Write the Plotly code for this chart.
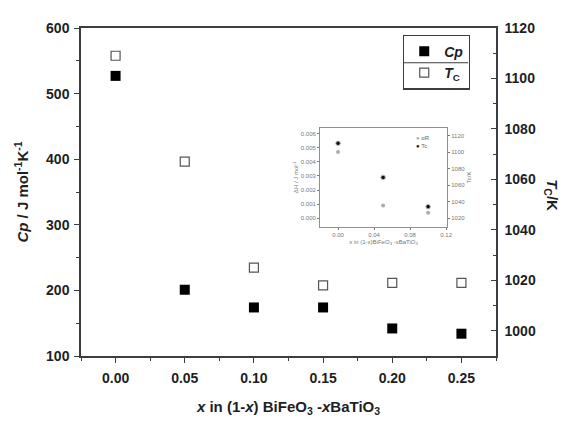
import plotly.graph_objects as go

# ---- main data ----
x_vals = [0.00, 0.05, 0.10, 0.15, 0.20, 0.25]
cp_vals = [527, 201, 174, 174, 142, 134]
tc_vals = [1109, 1067, 1025, 1018, 1019, 1019]
x_ticks = [0.00, 0.05, 0.10, 0.15, 0.20, 0.25]
x_ticktext = ["0.00", "0.05", "0.10", "0.15", "0.20", "0.25"]
cp_ticks = [100, 200, 300, 400, 500, 600]
tc_ticks = [1000, 1020, 1040, 1060, 1080, 1100, 1120]

# ---- inset data ----
ins_x = [0.00, 0.05, 0.10]
ins_grey = [0.0047, 0.0009, 0.0004]
ins_black = [1110.6, 1069.4, 1034.1]
ins_x_ticks = [0.00, 0.04, 0.08, 0.12]
ins_x_text = ["0.00", "0.04", "0.08", "0.12"]
ins_l_ticks = [0.000, 0.001, 0.002, 0.003, 0.004, 0.005, 0.006]
ins_l_text = ["0.000", "0.001", "0.002", "0.003", "0.004", "0.005", "0.006"]
ins_r_ticks = [1020, 1040, 1060, 1080, 1100, 1120]
ins_legend = ["αR", "Tc"]

INK = "#1e1e24"
AX = "#3a3d44"
FONT = "Liberation Sans"
GREY_PT = "#a8adb3"

fig = go.Figure()

fig.add_trace(go.Scatter(
    x=x_vals, y=cp_vals, mode="markers", name="<b><i>Cp</i></b>",
    marker=dict(symbol="square", size=10, color="#000000"),
    xaxis="x", yaxis="y"))
fig.add_trace(go.Scatter(
    x=x_vals, y=tc_vals, mode="markers", name="<b><i>T</i><sub>C</sub></b>",
    marker=dict(symbol="square-open", size=9, color="#555555", line=dict(width=1.2)),
    xaxis="x", yaxis="y2"))

# inset traces
fig.add_trace(go.Scatter(
    x=ins_x, y=ins_grey, mode="markers", name=ins_legend[0], showlegend=False,
    marker=dict(symbol="circle", size=4, color=GREY_PT),
    xaxis="x2", yaxis="y3"))
fig.add_trace(go.Scatter(
    x=ins_x, y=ins_black, mode="markers", name=ins_legend[1], showlegend=False,
    marker=dict(symbol="circle", size=4.5, color="#111111", line=dict(color="#bbbbbb", width=1)),
    xaxis="x2", yaxis="y4"))

tickfont = dict(family=FONT, size=14, color=INK, weight="bold")
small = dict(family=FONT, size=6, color="#777")

fig.update_layout(
    width=560, height=417,
    margin=dict(l=73, r=72, t=16, b=65),
    paper_bgcolor="white", plot_bgcolor="white",
    showlegend=True,
    xaxis=dict(
        domain=[0, 1], range=[-0.025, 0.275], tickvals=x_ticks, ticktext=x_ticktext,
        ticks="outside", ticklen=5, tickwidth=1.3, tickcolor=AX, ticklabelstandoff=3,
        minor=dict(tickvals=[-0.025, 0.025, 0.075, 0.125, 0.175, 0.225, 0.275], ticks="outside", ticklen=3, tickcolor=AX),
        showline=True, linecolor=AX, linewidth=1.5, mirror=True, showgrid=False, zeroline=False,
        tickfont=tickfont, anchor="y",
        title=dict(text="<i>x</i> in (1-<i>x</i>) BiFeO<sub>3</sub> -<i>x</i>BaTiO<sub>3</sub>",
                   font=dict(family=FONT, size=15, color=INK, weight="bold"), standoff=17),
    ),
    yaxis=dict(
        domain=[0, 1], range=[100, 600], tickvals=cp_ticks,
        ticks="outside", ticklen=5, tickwidth=1.3, tickcolor=AX, ticklabelstandoff=2,
        minor=dict(dtick=50, tick0=100, ticks="outside", ticklen=3, tickcolor=AX),
        showline=True, linecolor=AX, linewidth=1.5, showgrid=False, zeroline=False,
        tickfont=tickfont, anchor="x",
        title=dict(text="<i>Cp</i> / J mol<sup>-1</sup>K<sup>-1</sup>",
                   font=dict(family=FONT, size=15, color=INK, weight="bold"), standoff=14),
    ),
    yaxis2=dict(
        range=[990, 1120], tickvals=tc_ticks, overlaying="y", side="right", anchor="x",
        ticks="inside", ticklen=5, tickwidth=1.3, tickcolor=AX, ticklabelstandoff=4,
        minor=dict(dtick=10, tick0=1000, ticks="inside", ticklen=3, tickcolor=AX),
        showline=True, linecolor=AX, linewidth=1.5, showgrid=False, zeroline=False,
        tickfont=tickfont,
    ),
    # inset axes
    xaxis2=dict(
        domain=[0.576, 0.882], range=[-0.02, 0.121], tickvals=ins_x_ticks, ticktext=ins_x_text,
        ticks="outside", ticklen=2, tickcolor="#777", anchor="y3",
        showline=True, linecolor="#8a8f98", linewidth=1, mirror=True, showgrid=False, zeroline=False,
        tickfont=small,
        title=dict(text="x in (1-x)BiFeO<sub>3</sub> -xBaTiO<sub>3</sub>", font=small, standoff=2),
    ),
    yaxis3=dict(
        domain=[0.393, 0.696], range=[-0.00062, 0.00641], tickvals=ins_l_ticks, ticktext=ins_l_text,
        ticks="outside", ticklen=2, tickcolor="#777", anchor="x2",
        showline=True, linecolor="#8a8f98", linewidth=1, showgrid=False, zeroline=False,
        tickfont=small,
        title=dict(text="ΔH / J mol<sup>-1</sup>", font=small, standoff=1),
    ),
    yaxis4=dict(
        range=[1009.4, 1129.4], tickvals=ins_r_ticks, overlaying="y3", side="right", anchor="x2",
        ticks="outside", ticklen=2, tickcolor="#777",
        showline=True, linecolor="#8a8f98", linewidth=1, showgrid=False, zeroline=False,
        tickfont=small,
        title=dict(text="Tc/K", font=small, standoff=2),
    ),
    legend=dict(
        x=0.776, y=0.98, xanchor="left", yanchor="top",
        bgcolor="rgba(255,255,255,0)", bordercolor=AX, borderwidth=1.2,
        font=dict(family=FONT, size=14, color=INK), itemsizing="trace",
        tracegroupgap=0, itemwidth=30,
    ),
)

# divider between the two legend rows
fig.add_shape(type="line", xref="paper", yref="paper", x0=0.776, x1=0.933, y0=0.894, y1=0.894,
              line=dict(color=AX, width=1.2), layer="above")

# inset legend
fig.add_annotation(text=f"<span style='color:{GREY_PT}'>●</span> {ins_legend[0]}", xref="paper", yref="paper",
                   x=0.805, y=0.678, xanchor="left", showarrow=False, borderpad=0,
                   font=dict(family=FONT, size=6, color="#666"))
fig.add_annotation(text=f"<span style='color:#111'>●</span> {ins_legend[1]}", xref="paper", yref="paper",
                   x=0.805, y=0.640, xanchor="left", showarrow=False, borderpad=0,
                   font=dict(family=FONT, size=6, color="#666"))

# right axis title, reading top-to-bottom
fig.add_annotation(text="<b><i>T</i><sub>C</sub>/K</b>", xref="paper", yref="paper",
                   x=1.163, y=0.49, showarrow=False, textangle=90,
                   font=dict(family=FONT, size=15, color=INK))

fig.write_html("out.html")
